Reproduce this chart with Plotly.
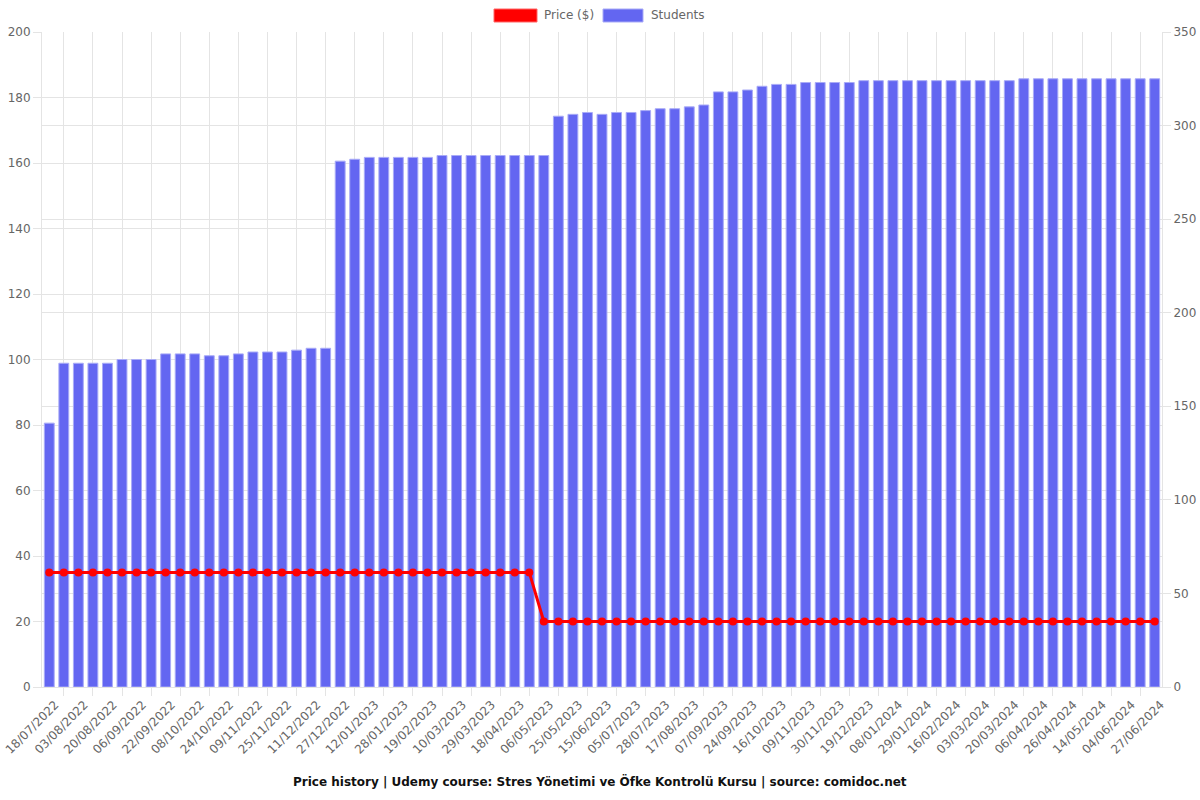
import plotly.graph_objects as go

# ---- data ----
dates = [
    "18/07/2022", "26/07/2022", "03/08/2022", "11/08/2022", "20/08/2022", "28/08/2022",
    "06/09/2022", "14/09/2022", "22/09/2022", "30/09/2022", "08/10/2022", "16/10/2022",
    "24/10/2022", "01/11/2022", "09/11/2022", "17/11/2022", "25/11/2022", "03/12/2022",
    "11/12/2022", "19/12/2022", "27/12/2022", "04/01/2023", "12/01/2023", "20/01/2023",
    "28/01/2023", "07/02/2023", "19/02/2023", "28/02/2023", "10/03/2023", "19/03/2023",
    "29/03/2023", "08/04/2023", "18/04/2023", "27/04/2023", "06/05/2023", "15/05/2023",
    "25/05/2023", "04/06/2023", "15/06/2023", "25/06/2023", "05/07/2023", "16/07/2023",
    "28/07/2023", "07/08/2023", "17/08/2023", "27/08/2023", "07/09/2023", "15/09/2023",
    "24/09/2023", "05/10/2023", "16/10/2023", "27/10/2023", "09/11/2023", "19/11/2023",
    "30/11/2023", "09/12/2023", "19/12/2023", "29/12/2023", "08/01/2024", "18/01/2024",
    "29/01/2024", "07/02/2024", "16/02/2024", "24/02/2024", "03/03/2024", "12/03/2024",
    "20/03/2024", "28/03/2024", "06/04/2024", "16/04/2024", "26/04/2024", "05/05/2024",
    "14/05/2024", "24/05/2024", "04/06/2024", "15/06/2024", "27/06/2024",
]

students = [
    141, 173, 173, 173, 173, 175, 175, 175, 178, 178, 178, 177, 177, 178, 179, 179, 179,
    180, 181, 181,
    281, 282, 283, 283, 283, 283, 283, 284, 284, 284, 284, 284, 284, 284, 284,
    305, 306, 307, 306, 307, 307, 308, 309, 309, 310, 311,
    318, 318, 319, 321, 322, 322, 323, 323, 323, 323,
    324, 324, 324, 324, 324, 324, 324, 324, 324, 324, 324,
    325, 325, 325, 325, 325, 325, 325, 325, 325, 325,
]

price = [35] * 34 + [20] * 43

tick_labels = dates[::2]

title_text = "Price history | Udemy course: Stres Yönetimi ve Öfke Kontrolü Kursu | source: comidoc.net"

# ---- styling ----
FONT = "DejaVu Sans"
GRID = "#e4e4e4"
TICKC = "#666666"
BAR = "#6366F1"
BAR_EDGE = "#a9abf7"
RED = "#FF0000"

idx = list(range(len(dates)))
tick_idx = idx[::2]
grid_idx = idx[1::2]

fig = go.Figure()
fig.add_trace(go.Bar(
    x=idx, y=students, name="Students", yaxis="y",
    width=0.68,
    marker=dict(color=BAR, line=dict(color=BAR_EDGE, width=1)),
    showlegend=False,
))
fig.add_trace(go.Scatter(
    x=idx, y=price, name="Price ($)", yaxis="y2", mode="lines+markers",
    line=dict(color=RED, width=3),
    marker=dict(color=RED, size=8),
    showlegend=False,
))

L, R, T, B = 42, 38, 32, 113
W, H = 1200, 800
pw, ph = W - L - R, H - T - B

def px_x(x):
    return (x - L) / pw

def px_y(y):
    return (H - B - y) / ph

shapes = [
    dict(type="rect", xref="paper", yref="paper",
         x0=px_x(494), x1=px_x(537), y0=px_y(22), y1=px_y(9),
         fillcolor=RED, line=dict(color="#ff6666", width=1)),
    dict(type="rect", xref="paper", yref="paper",
         x0=px_x(603), x1=px_x(643), y0=px_y(22), y1=px_y(9),
         fillcolor=BAR, line=dict(color=BAR_EDGE, width=1)),
]
annotations = [
    dict(text="Price ($)", xref="paper", yref="paper", x=px_x(542), y=px_y(15.5),
         xanchor="left", yanchor="middle", showarrow=False,
         font=dict(family=FONT, size=12, color=TICKC)),
    dict(text="Students", xref="paper", yref="paper", x=px_x(649), y=px_y(15.5),
         xanchor="left", yanchor="middle", showarrow=False,
         font=dict(family=FONT, size=12, color=TICKC)),
    dict(text="<b>" + title_text + "</b>", xref="paper", yref="paper",
         x=px_x(600), y=px_y(782), xanchor="center", yanchor="middle",
         showarrow=False, font=dict(family=FONT, size=12, color="#111111")),
]

fig.update_layout(
    width=W, height=H,
    margin=dict(l=L, r=R, t=T, b=B, pad=0, autoexpand=False),
    plot_bgcolor="white", paper_bgcolor="white",
    font=dict(family=FONT, size=12, color=TICKC),
    bargap=0.3,
    shapes=shapes, annotations=annotations,
    xaxis=dict(
        range=[-0.5, len(dates) - 0.5], automargin=False,
        ticklabeloverflow="allow", ticklabelstandoff=5, ticklabelshift=6,
        tickmode="array", tickvals=tick_idx, ticktext=tick_labels,
        tickangle=-45, showgrid=False, ticks="",
        showline=True, linecolor=GRID, linewidth=1, mirror=False,
        zeroline=False,
        tickfont=dict(family=FONT, size=12, color=TICKC),
        minor=dict(tickmode="array", tickvals=grid_idx, showgrid=True,
                   gridcolor=GRID, gridwidth=1, ticks="outside", ticklen=8,
                   tickcolor=GRID),
    ),
    yaxis=dict(
        side="right", range=[0, 350], tickmode="linear", tick0=0, dtick=50,
        automargin=False,
        showgrid=True, gridcolor=GRID, gridwidth=1, zeroline=False,
        ticks="outside", ticklen=8, tickcolor=GRID,
        showline=True, linecolor=GRID, linewidth=1,
        tickfont=dict(family=FONT, size=12, color=TICKC),
    ),
    yaxis2=dict(
        side="left", overlaying="y", range=[0, 200], tickmode="linear", tick0=0, dtick=20,
        automargin=False,
        showgrid=True, gridcolor=GRID, gridwidth=1, zeroline=False,
        ticks="outside", ticklen=8, tickcolor=GRID,
        showline=True, linecolor=GRID, linewidth=1,
        tickfont=dict(family=FONT, size=12, color=TICKC),
    ),
)

fig.write_html("out.html")
